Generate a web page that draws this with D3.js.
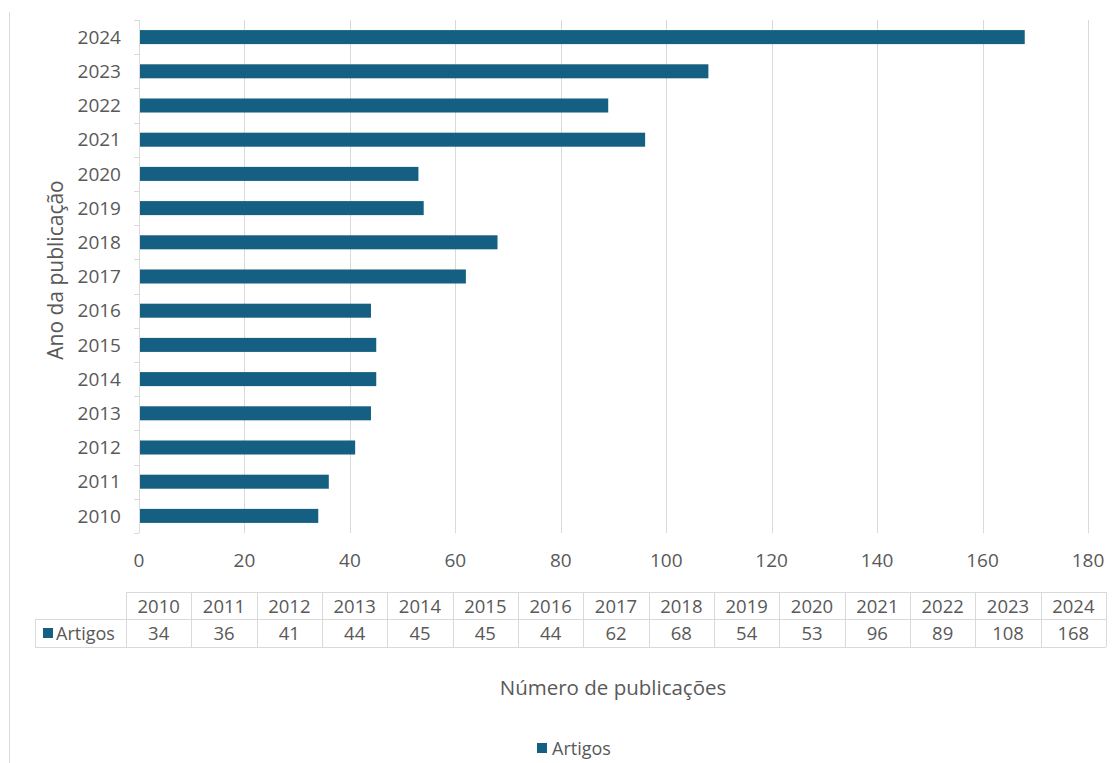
<!DOCTYPE html>
<html>
<head>
<meta charset="utf-8">
<script src="https://cdn.jsdelivr.net/npm/d3@7"></script>
<style>
  body { margin: 0; background: #fff; }
  svg text { font-family: "Open Sans", Roboto, sans-serif; fill: #595959; }
</style>
</head>
<body>
<svg id="chart" width="1118" height="763"></svg>
<script>
var years = ["2010","2011","2012","2013","2014","2015","2016","2017","2018","2019","2020","2021","2022","2023","2024"];
var artigos = [34, 36, 41, 44, 45, 45, 44, 62, 68, 54, 53, 96, 89, 108, 168];
var xTicks = [0, 20, 40, 60, 80, 100, 120, 140, 160, 180];
var seriesName = "Artigos";
var barColor = "#156082";

var data = years.map(function(y, i) { return {year: y, value: artigos[i]}; });

var svg = d3.select("#chart");
var plotLeft = 139, plotRight = 1088, plotTop = 20, plotBottom = 533;

// chart area left border
svg.append("line")
    .attr("x1", 9.5).attr("x2", 9.5)
    .attr("y1", 12).attr("y2", 763)
    .attr("stroke", "#d9d9d9");

var x = d3.scaleLinear().domain([0, 180]).range([plotLeft, plotRight]);
var y = d3.scaleBand()
    .domain(years.slice().reverse())
    .range([plotTop, plotBottom])
    .paddingInner(0.59).paddingOuter(0.295);

// gridlines
svg.append("g").selectAll("line")
    .data(xTicks.slice(1))
  .enter().append("line")
    .attr("x1", function(d) { return Math.round(x(d)) + 0.5; })
    .attr("x2", function(d) { return Math.round(x(d)) + 0.5; })
    .attr("y1", plotTop).attr("y2", plotBottom)
    .attr("stroke", "#d9d9d9");

// bars
svg.append("g").selectAll("rect")
    .data(data)
  .enter().append("rect")
    .attr("x", x(0))
    .attr("y", function(d) { return y(d.year); })
    .attr("width", function(d) { return x(d.value) - x(0); })
    .attr("height", y.bandwidth())
    .attr("fill", barColor);

// y axis line and ticks at band edges
svg.append("line")
    .attr("x1", plotLeft + 0.5).attr("x2", plotLeft + 0.5)
    .attr("y1", plotTop).attr("y2", plotBottom)
    .attr("stroke", "#d9d9d9");
var step = (plotBottom - plotTop) / years.length;
svg.append("g").selectAll("line")
    .data(d3.range(years.length + 1))
  .enter().append("line")
    .attr("x1", plotLeft - 5).attr("x2", plotLeft)
    .attr("y1", function(i) { return Math.round(plotTop + i * step) + 0.5; })
    .attr("y2", function(i) { return Math.round(plotTop + i * step) + 0.5; })
    .attr("stroke", "#d9d9d9");

// y labels
svg.append("g").selectAll("text")
    .data(years)
  .enter().append("text")
    .attr("x", plotLeft - 18)
    .attr("y", function(d) { return y(d) + y.bandwidth() / 2; })
    .attr("dy", "0.35em")
    .attr("text-anchor", "end")
    .style("font-size", "19px")
    .text(function(d) { return d; });

// x labels
svg.append("g").selectAll("text")
    .data(xTicks)
  .enter().append("text")
    .attr("x", function(d) { return x(d); })
    .attr("y", 560)
    .attr("dy", "0.35em")
    .attr("text-anchor", "middle")
    .style("font-size", "19px")
    .text(function(d) { return d; });

// axis titles
svg.append("text")
    .attr("transform", "translate(56,270) rotate(-90)")
    .attr("text-anchor", "middle")
    .attr("dy", "0.35em")
    .style("font-size", "21px")
    .text("Ano da publicação");

svg.append("text")
    .attr("x", 613).attr("y", 688)
    .attr("dy", "0.35em")
    .attr("text-anchor", "middle")
    .style("font-size", "20.5px")
    .text("Número de publicações");

// data table
var tLeft = 126, tRight = 1106, r0 = 592, r1 = 619, r2 = 647, labelLeft = 35;
var cx = d3.scaleBand().domain(years).range([tLeft, tRight]);
var tbl = svg.append("g").attr("stroke", "#d9d9d9").attr("fill", "none");
tbl.append("line").attr("x1", tLeft).attr("x2", tRight).attr("y1", r0 + 0.5).attr("y2", r0 + 0.5);
tbl.append("line").attr("x1", labelLeft).attr("x2", tRight).attr("y1", r1 + 0.5).attr("y2", r1 + 0.5);
tbl.append("line").attr("x1", labelLeft).attr("x2", tRight).attr("y1", r2 + 0.5).attr("y2", r2 + 0.5);
tbl.append("line").attr("x1", labelLeft + 0.5).attr("x2", labelLeft + 0.5).attr("y1", r1).attr("y2", r2);
tbl.selectAll(".v")
    .data(years.concat(["end"]))
  .enter().append("line")
    .attr("x1", function(d, i) { return Math.round(tLeft + i * cx.step()) + 0.5; })
    .attr("x2", function(d, i) { return Math.round(tLeft + i * cx.step()) + 0.5; })
    .attr("y1", r0).attr("y2", r2);

svg.append("g").selectAll("text")
    .data(years)
  .enter().append("text")
    .attr("x", function(d) { return cx(d) + cx.bandwidth() / 2; })
    .attr("y", (r0 + r1) / 2 + 1)
    .attr("dy", "0.35em")
    .attr("text-anchor", "middle")
    .style("font-size", "18.5px")
    .text(function(d) { return d; });

svg.append("g").selectAll("text")
    .data(data)
  .enter().append("text")
    .attr("x", function(d) { return cx(d.year) + cx.bandwidth() / 2; })
    .attr("y", (r1 + r2) / 2 + 1)
    .attr("dy", "0.35em")
    .attr("text-anchor", "middle")
    .style("font-size", "18.5px")
    .text(function(d) { return d.value; });

svg.append("rect")
    .attr("x", 43).attr("y", 628).attr("width", 10).attr("height", 10)
    .attr("fill", barColor);
svg.append("text")
    .attr("x", 56).attr("y", (r1 + r2) / 2 + 1)
    .attr("dy", "0.35em")
    .style("font-size", "18px")
    .text(seriesName);

// legend
svg.append("rect")
    .attr("x", 537).attr("y", 743).attr("width", 10).attr("height", 10)
    .attr("fill", barColor);
svg.append("text")
    .attr("x", 552).attr("y", 749)
    .attr("dy", "0.35em")
    .style("font-size", "18px")
    .text(seriesName);
</script>
</body>
</html>
